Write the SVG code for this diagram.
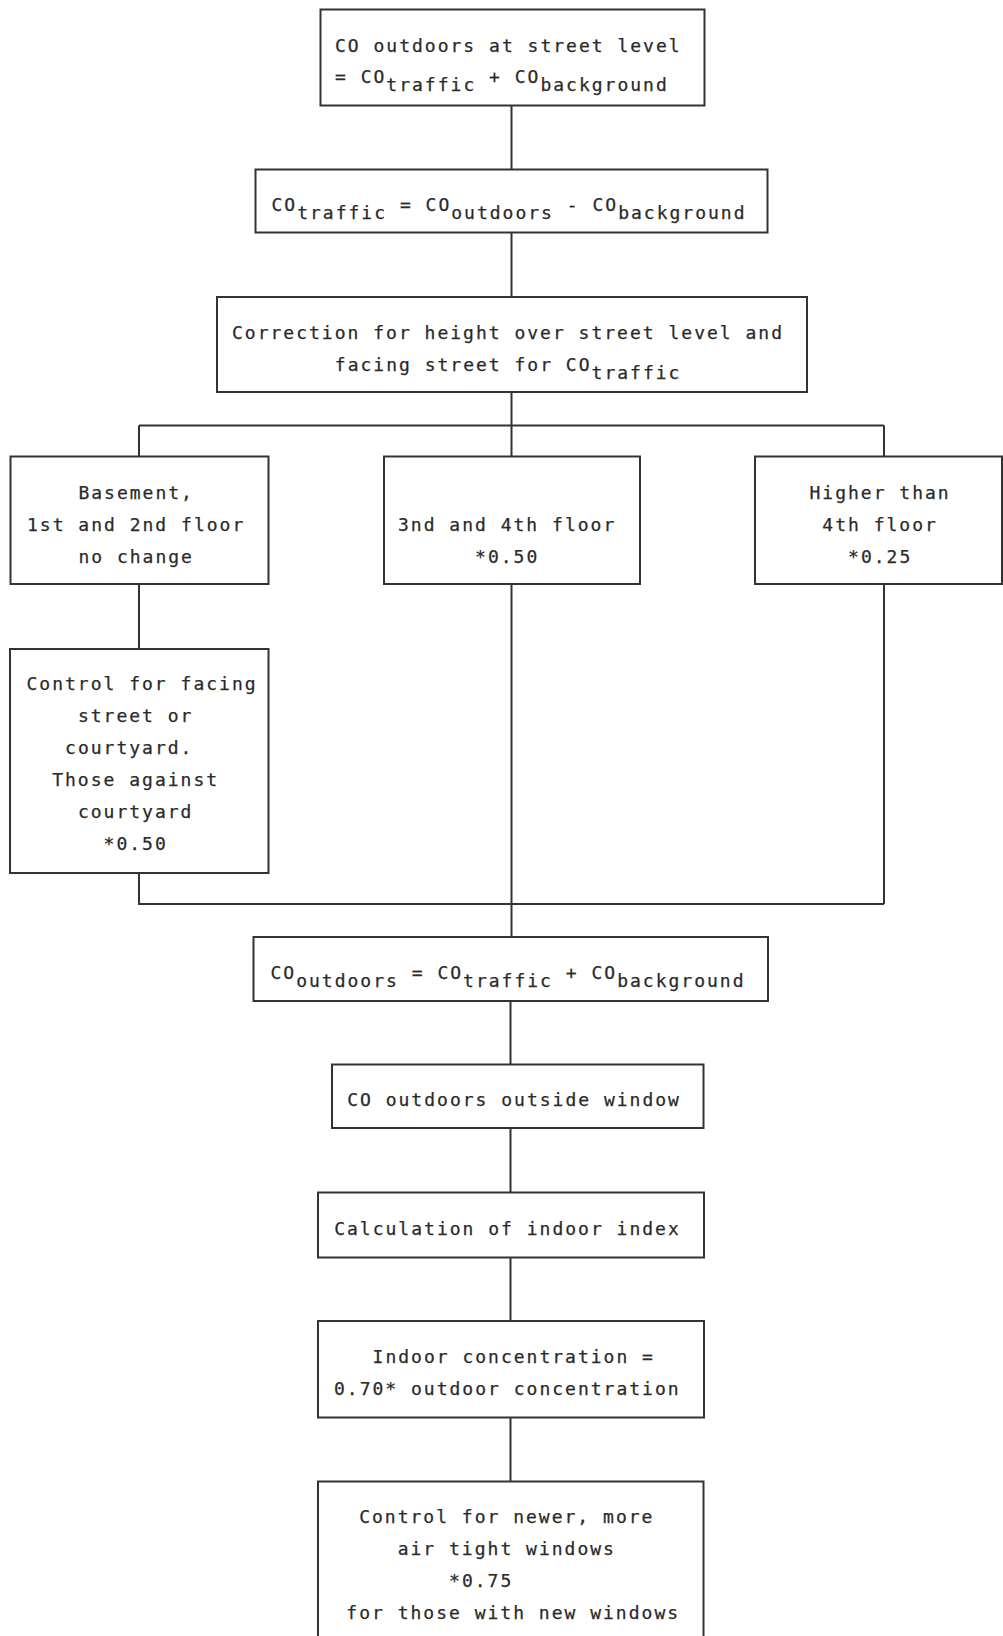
<svg xmlns="http://www.w3.org/2000/svg" width="1003" height="1636" viewBox="0 0 1003 1636">
<style>
.box{fill:#fff;stroke:#333;stroke-width:2}
.ln{fill:none;stroke:#333;stroke-width:2}
text{font-family:"DejaVu Sans Mono","Liberation Mono",monospace;font-size:18px;letter-spacing:2px;fill:#2a2a2a;stroke:#2a2a2a;stroke-width:0.25}
</style>
<rect width="1003" height="1636" fill="#fff"/>
<g id="connectors">
<path class="ln" d="M511.5 105.5V169.5M511.5 232.5V297M511.5 392V425.5M139 425.5H884M139 425.5V456.5M511.5 425.5V456.5M884 425.5V456.5M139 584V649M139 873V904H884M884 584V904M511.5 584V937M510.5 1001V1064.5M510.5 1128V1192.5M510.5 1257.5V1321M510.5 1417.5V1481.5"/>
</g>
<g id="n1"><rect class="box" x="320.5" y="9.5" width="384" height="96"/>
<text x="335" y="51.7">CO outdoors at street level</text>
<text x="335" y="82.5">= CO<tspan dy="8">traffic</tspan><tspan dy="-8"> + CO</tspan><tspan dy="8">background</tspan></text></g>
<g id="n2"><rect class="box" x="255.5" y="169.5" width="512" height="63"/>
<text x="271.5" y="211">CO<tspan dy="8">traffic</tspan><tspan dy="-8"> = CO</tspan><tspan dy="8">outdoors</tspan><tspan dy="-8"> - CO</tspan><tspan dy="8">background</tspan></text></g>
<g id="n3"><rect class="box" x="217" y="297" width="590" height="95"/>
<text x="232" y="339">Correction for height over street level and</text>
<text x="334.8" y="370.5">facing street for CO<tspan dy="8">traffic</tspan></text></g>
<g id="n4"><rect class="box" x="10.5" y="456.5" width="258" height="127.5"/>
<text x="78.4" y="498.5">Basement,</text>
<text x="27" y="530.5">1st and 2nd floor</text>
<text x="78.4" y="562.5">no change</text></g>
<g id="n5"><rect class="box" x="384" y="456.5" width="256" height="127.5"/>
<text x="398" y="530.5">3nd and 4th floor</text>
<text x="475.1" y="562.5">*0.50</text></g>
<g id="n6"><rect class="box" x="755" y="456.5" width="247" height="127.5"/>
<text x="809.5" y="498.5">Higher than</text>
<text x="822.35" y="530.5">4th floor</text>
<text x="848.05" y="562.5">*0.25</text></g>
<g id="n7"><rect class="box" x="10" y="649" width="258.5" height="224"/>
<text x="26.5" y="690">Control for facing</text>
<text x="77.9" y="722">street or</text>
<text x="65.05" y="754">courtyard.</text>
<text x="52.2" y="786">Those against</text>
<text x="77.9" y="818">courtyard</text>
<text x="103.6" y="850">*0.50</text></g>
<g id="n8"><rect class="box" x="253.5" y="937" width="514.5" height="64"/>
<text x="270.5" y="979">CO<tspan dy="8">outdoors</tspan><tspan dy="-8"> = CO</tspan><tspan dy="8">traffic</tspan><tspan dy="-8"> + CO</tspan><tspan dy="8">background</tspan></text></g>
<g id="n9"><rect class="box" x="332" y="1064.5" width="371.5" height="63.5"/>
<text x="347.2" y="1106">CO outdoors outside window</text></g>
<g id="n10"><rect class="box" x="318" y="1192.5" width="386" height="65"/>
<text x="334.2" y="1235">Calculation of indoor index</text></g>
<g id="n11"><rect class="box" x="318" y="1321" width="386" height="96.5"/>
<text x="372.55" y="1363.3">Indoor concentration =</text>
<text x="334" y="1394.5">0.70* outdoor concentration</text></g>
<g id="n12"><rect class="box" x="318" y="1481.5" width="385.5" height="170"/>
<text x="359.15" y="1523">Control for newer, more</text>
<text x="397.7" y="1555">air tight windows</text>
<text x="449.1" y="1587">*0.75</text>
<text x="346.3" y="1619">for those with new windows</text></g>
</svg>
